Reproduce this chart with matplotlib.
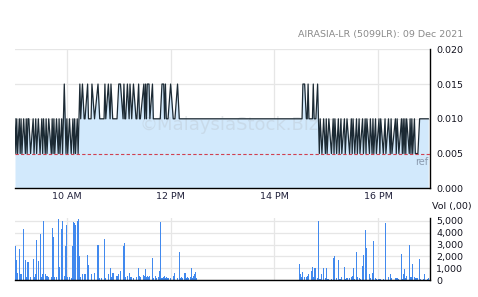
import matplotlib
matplotlib.use("Agg")
import matplotlib.pyplot as plt
import numpy as np

# ---- data (minutes after 09:00) ----
am_min = [0, 1, 2, 3, 5, 6, 7, 8, 10, 12,
          13, 14, 15, 16, 18, 21, 22, 24, 25, 27,
          29, 31, 32, 33, 35, 36, 37, 39, 42, 43,
          44, 45, 46, 48, 50, 51, 52, 54, 55, 57,
          58, 59, 60, 61, 63, 65, 67, 68, 69, 70,
          72, 73, 74, 75, 76, 78, 80, 81, 84, 85,
          88, 89, 92, 96, 98, 100, 103, 104, 105, 108,
          110, 111, 113, 114, 117, 118, 120, 122, 125, 126,
          127, 128, 130, 132, 133, 135, 137, 140, 141, 143,
          144, 145, 149, 150, 151, 152, 153, 155, 156, 159,
          160, 162, 163, 164, 166, 167, 168, 170, 172, 173,
          174, 175, 177, 180, 183, 185, 188, 190, 192, 193,
          194, 196, 197, 198, 200, 201, 203, 204, 205, 207,
          208, 209, 210]
am_vol = [2900, 2900, 1700, 600, 2600, 550, 500, 250, 4300, 1700,
          300, 300, 1500, 250, 250, 1800, 250, 550, 3400, 1600,
          3900, 300, 550, 5000, 550, 300, 400, 250, 250, 4400,
          3600, 550, 250, 250, 5100, 1100, 250, 4300, 5000, 400,
          2900, 1400, 4600, 250, 250, 200, 2900, 4900, 4800, 4600,
          5000, 5100, 1100, 2000, 300, 550, 250, 550, 2100, 1300,
          550, 200, 650, 3000, 200, 200, 550, 3500, 200, 550,
          1000, 250, 650, 600, 400, 400, 550, 750, 400, 2900,
          3100, 250, 400, 650, 250, 250, 200, 200, 250, 1000,
          400, 250, 450, 400, 950, 250, 350, 250, 400, 1900,
          200, 250, 400, 200, 250, 800, 4900, 200, 250, 400,
          200, 300, 200, 200, 400, 650, 200, 2400, 200, 250,
          200, 650, 650, 200, 250, 200, 250, 1000, 200, 400,
          550, 700, 200]
am_price = [.010, .005, .010, .005, .010, .005, .010, .005, .010, .005,
            .010, .005, .010, .010, .005, .010, .005, .010, .005, .010,
            .005, .010, .005, .010, .005, .010, .005, .010, .005, .010,
            .005, .010, .005, .010, .005, .010, .005, .010, .005, .015,
            .010, .005, .010, .005, .010, .005, .010, .005, .010, .005,
            .010, .005, .010, .015, .010, .015, .010, .010, .015, .010,
            .010, .015, .010, .015, .010, .010, .010, .015, .010, .015,
            .010, .015, .010, .010, .010, .010, .015, .015, .010, .015,
            .010, .010, .015, .010, .015, .010, .015, .010, .010, .015,
            .010, .010, .015, .010, .015, .010, .015, .015, .010, .015,
            .010, .010, .010, .010, .010, .010, .010, .015, .015, .010,
            .015, .010, .010, .015, .010, .010, .015, .010, .010, .010,
            .010, .010, .010, .010, .010, .010, .010, .010, .010, .010,
            .010, .010, .010]

pm_min = [329, 330, 331, 332, 333, 335, 337, 338, 339, 340,
          343, 344, 345, 346, 347, 348, 350, 351, 352, 353,
          355, 357, 359, 360, 361, 363, 366, 368, 369, 370,
          372, 374, 375, 377, 378, 381, 382, 384, 387, 389,
          390, 391, 393, 395, 396, 398, 399, 402, 403, 405,
          406, 407, 410, 411, 413, 414, 415, 417, 418, 421,
          422, 423, 426, 428, 429, 432, 434, 435, 436, 440,
          441, 442, 444, 447, 448, 449, 450, 451, 452, 453,
          456, 457, 458, 459, 460, 462, 463, 465, 466, 468,
          469, 472, 474, 477, 478]
pm_vol = [1400, 550, 250, 700, 550, 300, 250, 400, 550, 300,
          750, 1100, 300, 350, 1000, 200, 200, 5000, 100, 100,
          550, 1000, 200, 1000, 100, 100, 100, 650, 1900, 2000,
          200, 1700, 100, 100, 250, 1100, 100, 200, 200, 300,
          400, 1000, 100, 2350, 250, 200, 100, 1200, 2100, 4200,
          550, 2700, 550, 200, 200, 650, 3300, 200, 100, 100,
          100, 100, 100, 4800, 100, 300, 550, 200, 200, 200,
          200, 200, 100, 2200, 100, 550, 950, 100, 200, 400,
          3000, 200, 250, 300, 1400, 300, 200, 200, 200, 1800,
          100, 100, 550, 100, 200]
pm_price = [.010, .010, .010, .010, .015, .015, .010, .010, .015, .010,
            .010, .010, .015, .010, .010, .010, .015, .010, .005, .010,
            .005, .010, .005, .010, .005, .010, .005, .010, .005, .010,
            .005, .010, .005, .010, .005, .010, .005, .010, .005, .010,
            .005, .010, .005, .010, .005, .010, .005, .010, .005, .010,
            .005, .010, .005, .010, .005, .010, .005, .010, .005, .010,
            .005, .010, .005, .010, .005, .010, .005, .010, .005, .010,
            .005, .010, .005, .010, .005, .010, .005, .010, .005, .010,
            .005, .010, .005, .010, .005, .010, .005, .005, .005, .010,
            .010, .010, .010, .010, .010]

ref_price = 0.005
tick_min = [60, 180, 300, 420]
tick_lbl = ["10 AM", "12 PM", "14 PM", "16 PM"]
price_ticks = [0.000, 0.005, 0.010, 0.015, 0.020]
vol_ticks = [0, 1000, 2000, 3000, 4000, 5000]
title = "AIRASIA-LR (5099LR): 09 Dec 2021"

t = np.array(am_min + pm_min, dtype=float)
p = np.array(am_price + pm_price)
v = np.array(am_vol + pm_vol)

W, H = 478, 297
fig = plt.figure(figsize=(W / 100, H / 100), dpi=100)
fig.patch.set_facecolor("white")

def box(l, r, top, bot):
    return [l / W, 1 - bot / H, (r - l) / W, (bot - top) / H]

grid_c = "#e6e6e6"
lbl_c = "#141420"

ax = fig.add_axes(box(15, 430, 49.3, 188.3))
ax.fill_between(t, p, 0, color="#d2e9fc", lw=0, zorder=1)
ax.text(248, 0.0091, "\u00a9MalaysiaStock.Biz", fontsize=13, color="#b8c0c8",
        alpha=0.35, ha="center", va="center", zorder=2)
ax.plot(t, p, color="#1c2a34", lw=0.9, zorder=3)
ax.axhline(ref_price, color="#d04050", lw=0.8, ls=(0, (3, 2)), zorder=4)
ax.text(478.5, 0.0038, "ref", fontsize=7, color="#8a9aae", ha="right", va="center")
ax.set_xlim(0, 480)
ax.set_ylim(0, 0.02)
ax.set_yticks(price_ticks)
ax.set_yticklabels([f"{y:.3f}" for y in price_ticks])
ax.set_xticks(tick_min)
ax.set_xticklabels(tick_lbl)
ax.yaxis.tick_right()
ax.tick_params(axis="both", length=0, labelsize=6.8, colors=lbl_c)
ax.tick_params(axis="y", pad=4.5)
ax.tick_params(axis="x", pad=3, colors="#20203a")
ax.grid(True, color=grid_c, lw=0.9, zorder=0)
ax.set_axisbelow(True)
for s in ["left", "top"]:
    ax.spines[s].set_visible(False)
for s in ["right", "bottom"]:
    ax.spines[s].set_color("black")
    ax.spines[s].set_linewidth(1.0)

bx = fig.add_axes(box(15, 430, 218.3, 280.3))
bx.bar(t, v, width=1.25, color="#4189ee", lw=0, zorder=2, antialiased=False)
bx.set_xlim(0, 480)
bx.set_ylim(0, 5200)
bx.set_yticks(vol_ticks)
bx.set_yticklabels([f"{y:,}" for y in vol_ticks])
bx.set_xticks(tick_min)
bx.set_xticklabels([])
bx.yaxis.tick_right()
bx.tick_params(axis="both", length=0, labelsize=6.8, colors=lbl_c)
bx.tick_params(axis="y", pad=4.5)
bx.grid(True, color=grid_c, lw=0.9, zorder=0)
bx.set_axisbelow(True)
for s in ["left", "top"]:
    bx.spines[s].set_visible(False)
for s in ["right", "bottom"]:
    bx.spines[s].set_color("black")
    bx.spines[s].set_linewidth(1.0)

fig.text(463 / W, 1 - 35 / H, title, fontsize=6.8, color="#8a8a8a", ha="right", va="center")
fig.text(432 / W, 1 - 206.7 / H, "Vol (,00)", fontsize=6.8, color=lbl_c, ha="left", va="center")

fig.savefig("out.png", dpi=100, facecolor="white")
